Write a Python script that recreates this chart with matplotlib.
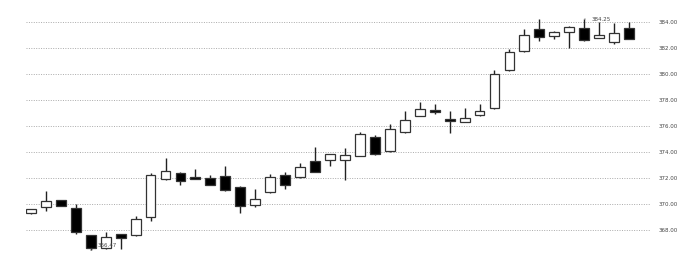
import numpy as np
import matplotlib
matplotlib.use("Agg")
import matplotlib.pyplot as plt

# OHLC
opens = [369.31, 369.82, 370.33, 369.72, 367.64, 366.62, 367.72, 367.62, 369.00, 371.92,
         372.41, 372.10, 372.05, 372.18, 371.33, 369.95, 370.92, 372.25, 372.08, 373.33,
         373.38, 373.38, 373.74, 375.18, 374.08, 375.54, 376.82, 377.23, 376.56, 376.35,
         376.85, 377.38, 380.31, 381.77, 383.48, 382.92, 383.23, 383.56, 382.82, 382.51,
         383.56]
highs = [369.65, 371.02, 370.35, 370.02, 367.66, 367.87, 367.74, 369.12, 372.38, 373.56,
         372.45, 372.72, 372.25, 372.95, 371.41, 371.18, 372.33, 372.48, 373.18, 374.38,
         373.90, 374.33, 375.58, 375.33, 376.15, 377.18, 377.85, 377.72, 377.18, 377.41,
         377.72, 380.31, 381.92, 383.48, 384.23, 383.33, 383.69, 384.25, 384.00, 383.92,
         384.05]
lows = [369.28, 369.48, 369.88, 367.69, 366.47, 366.60, 366.60, 367.60, 368.74, 371.90,
        371.48, 371.92, 371.50, 371.00, 369.35, 369.82, 370.90, 371.15, 372.06, 372.46,
        372.97, 371.87, 373.72, 373.77, 374.06, 375.52, 376.80, 376.97, 375.46, 376.33,
        376.83, 377.36, 380.29, 381.75, 382.54, 382.74, 382.00, 382.56, 382.80, 382.31,
        382.69]
closes = [369.62, 370.23, 369.89, 367.85, 366.62, 367.51, 367.38, 368.85, 372.25, 372.56,
          371.82, 371.97, 371.51, 371.08, 369.89, 370.41, 372.08, 371.51, 372.85, 372.51,
          373.87, 373.79, 375.38, 373.85, 375.79, 376.46, 377.31, 377.10, 376.43, 376.62,
          377.15, 380.00, 381.69, 383.00, 382.85, 383.23, 383.62, 382.66, 383.05, 383.15,
          382.74]
yticks = [368, 370, 372, 374, 376, 378, 380, 382, 384]

fig = plt.figure(figsize=(7, 2.64), dpi=100)
ax = fig.add_axes([26/700, 6/264, 624/700, 253/264])

x = np.arange(len(opens))
o = np.array(opens); c = np.array(closes)
up = c >= o
ax.vlines(x, lows, highs, color="#222222", linewidth=1, zorder=2)
bottoms = np.minimum(o, c)
heights = np.maximum(np.abs(c - o), 0.05)
ax.bar(x, heights, bottom=bottoms, width=0.66,
       color=np.where(up, "white", "black"), edgecolor="#333333",
       linewidth=0.9, zorder=3)

ax.set_xlim(-0.33, 41.4)
ax.set_ylim(365.87, 385.33)
ax.set_yticks(yticks)
ax.set_yticklabels(["%.2f" % v for v in yticks], fontsize=4, color="#444444")
ax.yaxis.tick_right()
ax.tick_params(axis="y", length=0, pad=6)
ax.set_xticks([])
ax.grid(axis="y", linestyle=(0, (1, 1.5)), color="#aaaaaa", linewidth=0.7)
ax.set_axisbelow(True)
for s in ax.spines.values():
    s.set_visible(False)

# min / max markers
imin = int(np.argmin(lows)); imax = int(np.argmax(highs))
ax.annotate("%.2f" % lows[imin], xy=(imin, lows[imin]), xytext=(5, 1.5),
            textcoords="offset points", fontsize=4, color="#444444", va="bottom",
            arrowprops=dict(arrowstyle="-", color="#666666", lw=0.5))
ax.annotate("%.2f" % highs[imax], xy=(imax, highs[imax]), xytext=(5, 0),
            textcoords="offset points", fontsize=4, color="#444444", va="center",
            arrowprops=dict(arrowstyle="-", color="#666666", lw=0.5))

fig.savefig("out.png", dpi=100)
